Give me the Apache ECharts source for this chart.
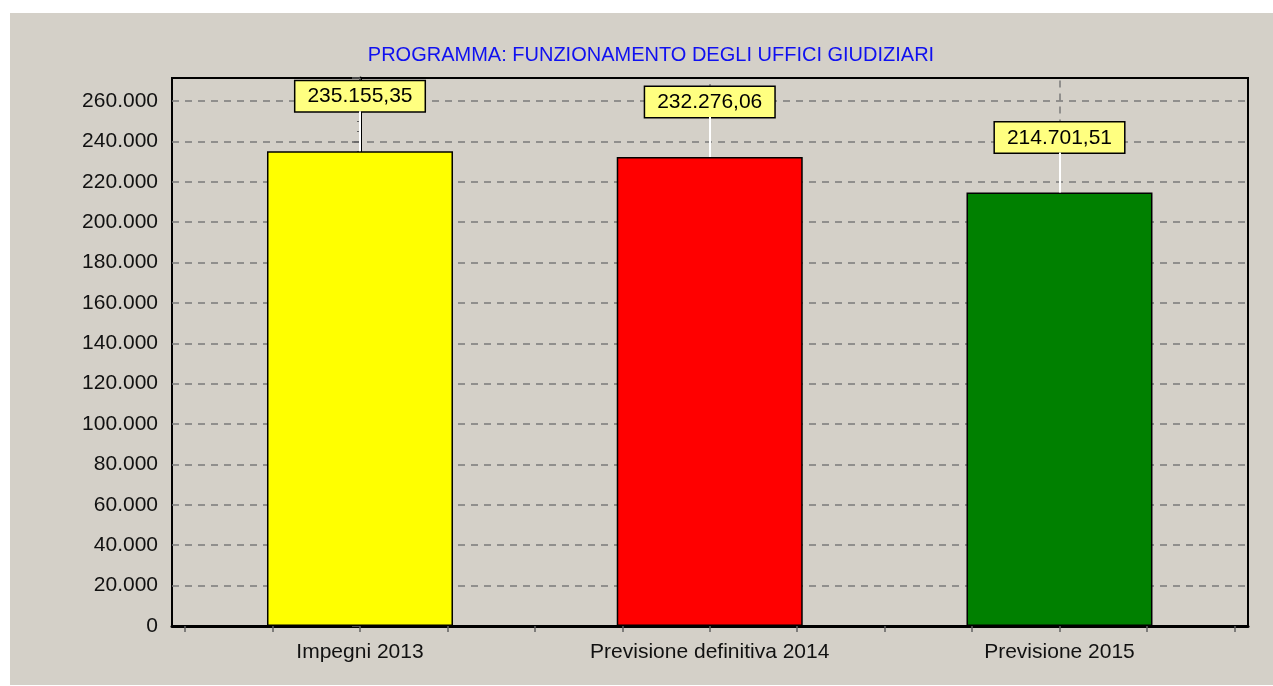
<!DOCTYPE html>
<html lang="it">
<head>
<meta charset="UTF-8">
<title>Funzionamento degli uffici giudiziari</title>
<script src="https://cdn.jsdelivr.net/npm/echarts@6/dist/echarts.min.js"></script>
<style>
  html, body { margin: 0; padding: 0; width: 100%; height: 100%; background: #ffffff; }
  #chart { width: 1273px; height: 686px; }
</style>
</head>
<body>
<div id="chart"></div>
<script>
  // dati del grafico
  var categories = ['Impegni 2013', 'Previsione definitiva 2014', 'Previsione 2015'];
  var values = [235155.35, 232276.06, 214701.51];
  var barColors = ['#ffff00', '#ff0000', '#008000'];
  var yTicks = [0, 20000, 40000, 60000, 80000, 100000, 120000, 140000, 160000, 180000, 200000, 220000, 240000, 260000];
  var yMax = 271400;

  // formato italiano: 235.155,35
  function fmtIt(v, dec) {
    var parts = v.toFixed(dec).split('.');
    var intPart = parts[0].replace(/\B(?=(\d{3})+(?!\d))/g, '.');
    return dec ? intPart + ',' + parts[1] : intPart;
  }

  var leader = 19810; // ~40px in unita' dell'asse

  var barData = values.map(function (v, i) {
    return { value: [i, v], itemStyle: { color: barColors[i] } };
  });

  // linee verticali tratteggiate sopra le etichette
  var vLines = values.map(function (v, i) {
    return [{ coord: [i, v + leader] }, { coord: [i, yMax] }];
  });
  // linee bianche tra barra ed etichetta
  var leaders = values.map(function (v, i) {
    return [{ coord: [i, v] }, { coord: [i, v + leader] }];
  });

  var xTickValues = [];
  for (var t = -0.5; t <= 2.5001; t += 0.25) xTickValues.push(t);

  var font = 'Liberation Sans, Arial, sans-serif';

  var chart = echarts.init(document.getElementById('chart'));
  chart.setOption({
    backgroundColor: '#ffffff',
    animation: false,
    graphic: [{
      type: 'rect',
      z: -10,
      silent: true,
      shape: { x: 10, y: 13, width: 1263, height: 672 },
      style: { fill: '#d4d0c8' }
    }],
    title: {
      text: 'PROGRAMMA: FUNZIONAMENTO DEGLI UFFICI GIUDIZIARI',
      left: 646,
      top: 40,
      textAlign: 'center',
      textStyle: {
        color: '#1010f0',
        fontSize: 20,
        fontWeight: 'normal',
        fontFamily: font
      }
    },
    grid: {
      left: 172,
      right: 25,
      top: 78,
      bottom: 60,
      show: true,
      borderColor: '#000000',
      borderWidth: 2,
      backgroundColor: 'transparent'
    },
    xAxis: {
      type: 'value',
      min: -0.5375,
      max: 2.539,
      axisLine: { show: true, lineStyle: { color: '#000000', width: 3 } },
      axisTick: {
        show: true,
        length: 6,
        customValues: xTickValues,
        lineStyle: { color: '#606060', width: 1.5 }
      },
      splitLine: { show: false },
      axisLabel: {
        customValues: [0, 1, 2],
        margin: 16,
        color: '#111111',
        fontSize: 21,
        fontFamily: font,
        formatter: function (v) { return categories[Math.round(v)]; }
      }
    },
    yAxis: {
      type: 'value',
      min: 0,
      max: yMax,
      interval: 20000,
      axisLine: { show: true, lineStyle: { color: '#000000', width: 3 } },
      axisTick: { show: true, length: 8, lineStyle: { color: '#606060', width: 1.5 } },
      minorTick: { show: true, splitNumber: 4, length: 3, lineStyle: { color: '#606060' } },
      splitLine: {
        show: true,
        showMaxLine: false,
        lineStyle: { color: '#7a7a7a', type: [7, 6], width: 1.5 }
      },
      axisLabel: {
        margin: 14,
        color: '#111111',
        fontSize: 21,
        fontFamily: font,
        showMaxLabel: false,
        formatter: function (v) {
          return yTicks.indexOf(v) >= 0 ? fmtIt(v, 0) : '';
        }
      }
    },
    series: [{
      type: 'bar',
      z: 2,
      barWidth: 186,
      data: barData,
      itemStyle: { borderColor: '#000000', borderWidth: 1.5 },
      label: {
        show: true,
        position: 'top',
        distance: 40,
        formatter: function (p) { return fmtIt(p.value[1], 2); },
        color: '#000000',
        fontSize: 21,
        lineHeight: 21,
        fontFamily: font,
        backgroundColor: '#ffff80',
        borderColor: '#000000',
        borderWidth: 1.5,
        padding: [5, 12, 4, 12]
      },
      markLine: {
        silent: true,
        z: 1,
        symbol: ['none', 'none'],
        label: { show: false },
        animation: false,
        lineStyle: { color: '#7a7a7a', type: [7, 6], width: 1.5 },
        data: vLines
      }
    }, {
      type: 'line',
      data: [],
      z: 3,
      markLine: {
        silent: true,
        z: 3,
        symbol: ['none', 'none'],
        label: { show: false },
        animation: false,
        lineStyle: { color: '#ffffff', type: 'solid', width: 2 },
        data: leaders
      }
    }]
  });
</script>
</body>
</html>
